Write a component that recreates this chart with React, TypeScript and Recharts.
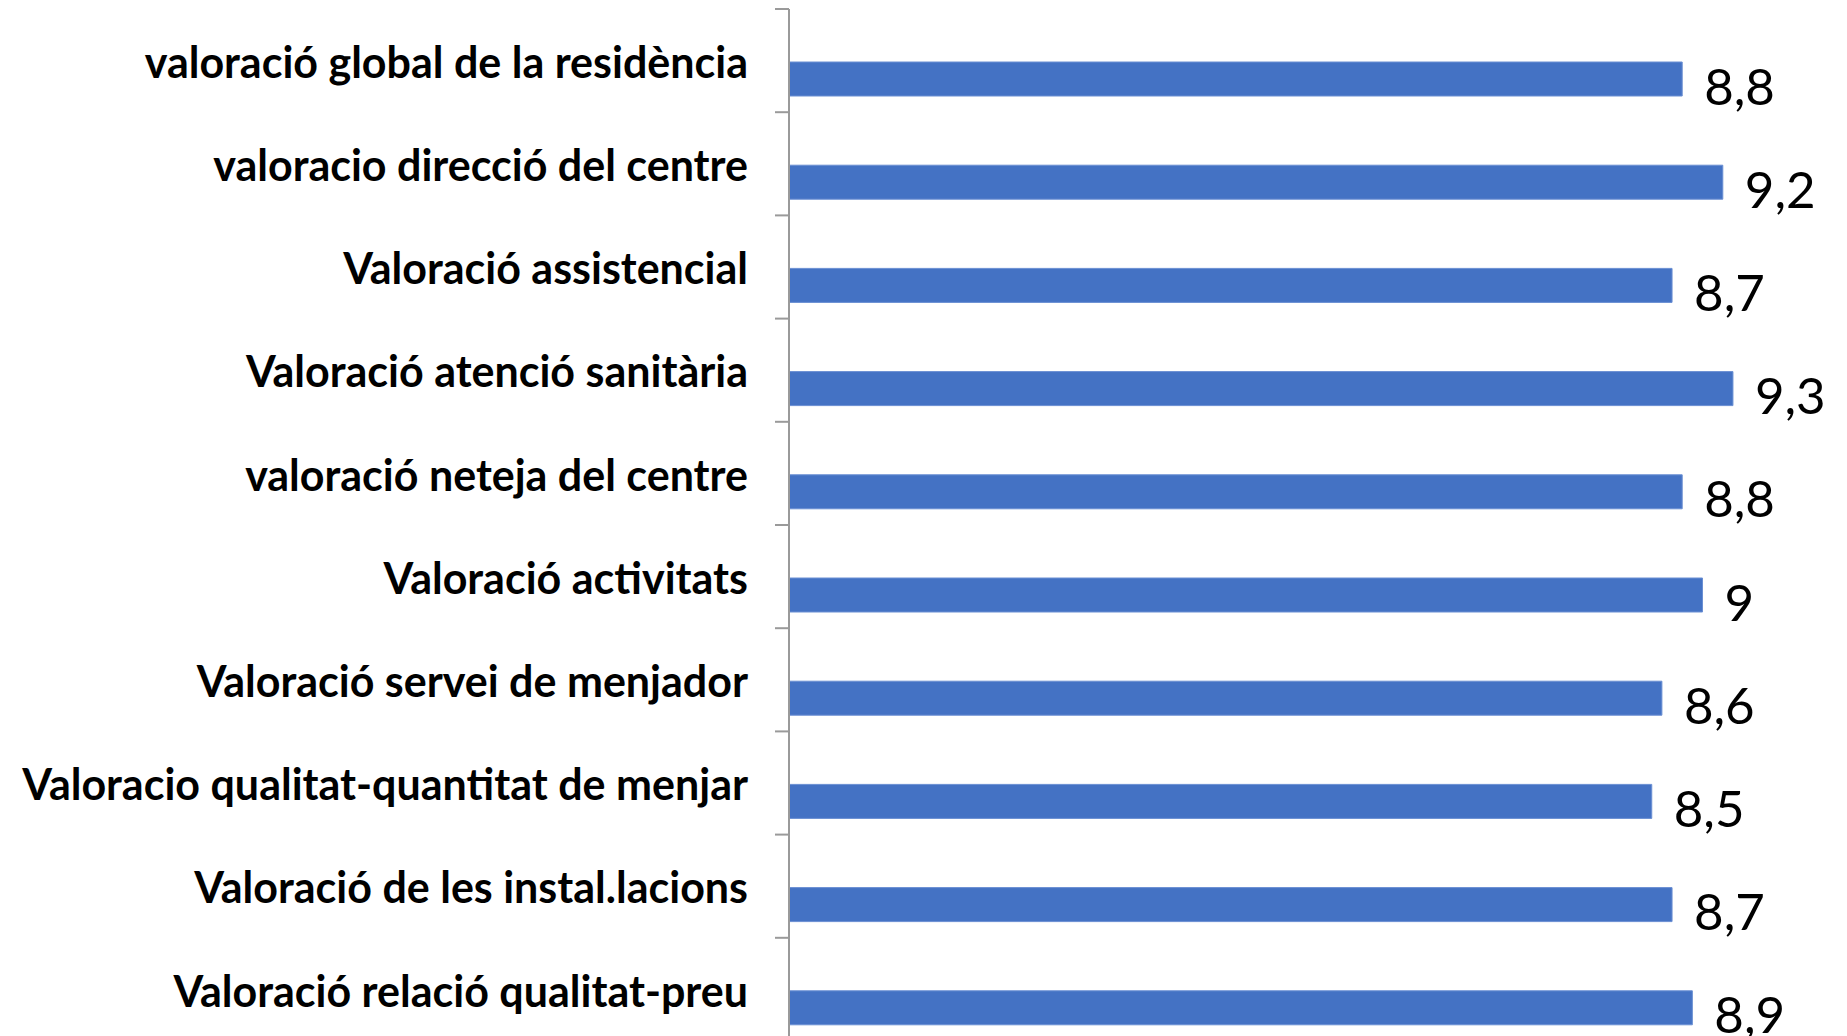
import { BarChart, Bar, XAxis, YAxis, LabelList } from "recharts";

const CATEGORIES = [
  "valoració global de la residència",
  "valoracio direcció del centre",
  "Valoració assistencial",
  "Valoració atenció sanitària",
  "valoració neteja del centre",
  "Valoració activitats",
  "Valoració servei de menjador",
  "Valoracio qualitat-quantitat de menjar",
  "Valoració de les instal.lacions",
  "Valoració relació qualitat-preu",
];

const VALUES = [8.8, 9.2, 8.7, 9.3, 8.8, 9, 8.6, 8.5, 8.7, 8.9];

const X_DOMAIN: [number, number] = [0, 10];

// excel chart had a second (empty) series, so the bars sit below the band centre
const data = CATEGORIES.map((name, i) => ({ name, empty: null, valor: VALUES[i] }));

const fmt = (v: number) => String(v).replace(".", ",");

const AXIS_GREY = "#9a9a9a";
const TICK_SIZE = 14;
const TICK_MARGIN = 27;

function CategoryTick(props: any) {
  const { x, y, payload, index } = props;
  const half = payload.offset ?? 0;
  const lx1 = x + TICK_MARGIN;
  const lx2 = x + TICK_MARGIN + TICK_SIZE;
  return (
    <g>
      <line x1={lx1} x2={lx2} y1={y - half} y2={y - half} stroke={AXIS_GREY} strokeWidth={2} />
      {index === CATEGORIES.length - 1 && (
        <line x1={lx1} x2={lx2} y1={y + half} y2={y + half} stroke={AXIS_GREY} strokeWidth={2} />
      )}
      <text
        x={x}
        y={y + 2}
        dy="0.355em"
        textAnchor="end"
        fontSize={43}
        fontWeight={700}
        fontFamily="Lato, sans-serif"
        fill="#000"
      >
        {payload.value}
      </text>
    </g>
  );
}

function ValueLabel(props: any) {
  const { x, y, width, height, value } = props;
  return (
    <text
      x={x + width + 22}
      y={y + height / 2 + 6}
      fontSize={51}
      fontFamily="Lato, sans-serif"
      fill="#000"
      dominantBaseline="central"
    >
      {fmt(value)}
    </text>
  );
}

export default function App() {
  return (
    <div
      style={{
        position: "fixed",
        left: 0,
        top: 0,
        width: 1847,
        height: 1036,
        overflow: "hidden",
        background: "#fff",
      }}
    >
      <BarChart
        width={1847}
        height={1060}
        data={data}
        layout="vertical"
        margin={{ top: 9, right: 43, left: 0, bottom: 19 }}
        barGap={2}
      >
        <XAxis type="number" domain={X_DOMAIN} hide />
        <YAxis
          type="category"
          dataKey="name"
          width={789}
          axisLine={{ stroke: AXIS_GREY, strokeWidth: 2 }}
          tickLine={false}
          tickSize={TICK_SIZE}
          tickMargin={TICK_MARGIN}
          interval={0}
          tick={CategoryTick}
        />
        <Bar dataKey="empty" barSize={34} fill="#4472C4" isAnimationActive={false} />
        <Bar
          dataKey="valor"
          barSize={34}
          fill="#4472C4"
          stroke="#6a8fd3"
          strokeWidth={1}
          isAnimationActive={false}
        >
          <LabelList dataKey="valor" content={ValueLabel} />
        </Bar>
      </BarChart>
    </div>
  );
}
